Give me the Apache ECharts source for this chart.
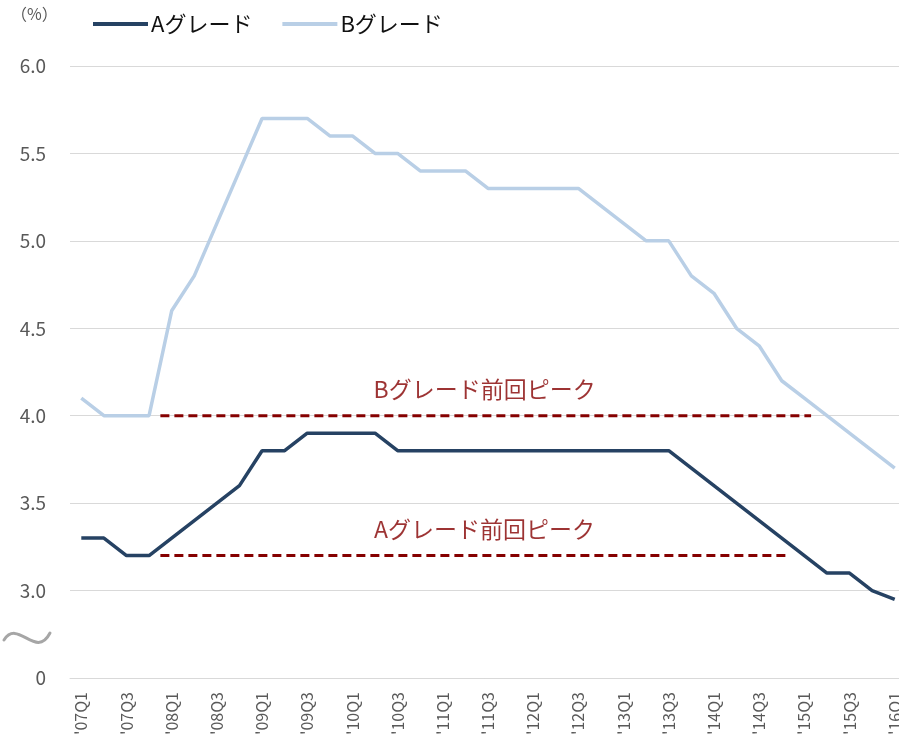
<!DOCTYPE html>
<html>
<head>
<meta charset="utf-8">
<script src="https://cdn.jsdelivr.net/npm/echarts@6/dist/echarts.min.js"></script>
<style>
  html, body { margin: 0; padding: 0; background: #fff; }
  #chart { width: 899px; height: 746px; }
</style>
</head>
<body>
<div id="chart"></div>
<script>
// Quarterly categories, 2007 Q1 to 2016 Q1
const quarters = [
  "'07Q1","'07Q2","'07Q3","'07Q4",
  "'08Q1","'08Q2","'08Q3","'08Q4",
  "'09Q1","'09Q2","'09Q3","'09Q4",
  "'10Q1","'10Q2","'10Q3","'10Q4",
  "'11Q1","'11Q2","'11Q3","'11Q4",
  "'12Q1","'12Q2","'12Q3","'12Q4",
  "'13Q1","'13Q2","'13Q3","'13Q4",
  "'14Q1","'14Q2","'14Q3","'14Q4",
  "'15Q1","'15Q2","'15Q3","'15Q4",
  "'16Q1"
];

// A grade (%)
const gradeA = [
  3.3, 3.3, 3.2, 3.2,
  3.3, 3.4, 3.5, 3.6,
  3.8, 3.8, 3.9, 3.9,
  3.9, 3.9, 3.8, 3.8,
  3.8, 3.8, 3.8, 3.8,
  3.8, 3.8, 3.8, 3.8,
  3.8, 3.8, 3.8, 3.7,
  3.6, 3.5, 3.4, 3.3,
  3.2, 3.1, 3.1, 3.0,
  2.95
];

// B grade (%)
const gradeB = [
  4.1, 4.0, 4.0, 4.0,
  4.6, 4.8, 5.1, 5.4,
  5.7, 5.7, 5.7, 5.6,
  5.6, 5.5, 5.5, 5.4,
  5.4, 5.4, 5.3, 5.3,
  5.3, 5.3, 5.3, 5.2,
  5.1, 5.0, 5.0, 4.8,
  4.7, 4.5, 4.4, 4.2,
  4.1, 4.0, 3.9, 3.8,
  3.7
];

// Previous peak reference levels and the quarter span each dashed line covers
const peakB = 4.0;
const peakA = 3.2;
const peakBSpan = [3.5, 32.3];
const peakASpan = [3.5, 31.3];
const peakLabelPos = 17.85;
const peakBText = 'Bグレード前回ピーク';
const peakAText = 'Aグレード前回ピーク';

// Y-axis: the bottom tick stands for zero (broken axis)
const yMin = 2.5, yMax = 6.0, yStep = 0.5;

const FONT = '"Noto Sans CJK JP", "Noto Sans", sans-serif';
const NAVY = '#264263';
const LIGHT = '#B9CFE6';
const PEAK = '#850000';

const chart = echarts.init(document.getElementById('chart'), null, { renderer: 'canvas' });

chart.setOption({
  animation: false,
  backgroundColor: '#fff',
  textStyle: { fontFamily: FONT },
  grid: { left: 70, top: 66, width: 836, height: 612, containLabel: false, outerBoundsMode: 'none' },
  legend: {
    left: 88, top: 8,
    itemWidth: 55, itemHeight: 4, itemGap: 30,
    icon: 'rect',
    textStyle: { fontSize: 22, color: '#111', fontFamily: FONT, padding: [0, 0, 0, -2] },
    data: ['Aグレード', 'Bグレード']
  },
  xAxis: [{
    type: 'category',
    data: quarters,
    boundaryGap: true,
    axisLine: { show: true, lineStyle: { color: '#d9d9d9', width: 1 } },
    axisTick: { show: false },
    axisLabel: {
      interval: 1, rotate: 90, margin: 14,
      fontSize: 16, color: '#595959', fontFamily: FONT
    },
    splitLine: { show: false }
  }, {
    type: 'value',
    min: -0.5, max: 36.5,
    show: false
  }],
  yAxis: {
    type: 'value',
    min: yMin, max: yMax, interval: yStep,
    axisLine: { show: false },
    axisTick: { show: false },
    axisLabel: {
      margin: 24, fontSize: 19, color: '#595959', fontFamily: FONT,
      formatter: v => (Math.abs(v - yMin) < 1e-9 ? '0' : v.toFixed(1))
    },
    splitLine: { lineStyle: { color: '#d9d9d9', width: 1 } }
  },
  graphic: [
    {
      type: 'text', left: 11, top: 6,
      style: { text: '（%）', fontSize: 16, fill: '#595959', fontFamily: FONT }
    },
    {
      type: 'bezierCurve',
      shape: { x1: 4, y1: 640, cpx1: 18, cpy1: 618, cpx2: 36, cpy2: 660, x2: 50, y2: 633 },
      style: { stroke: '#a6a6a6', lineWidth: 3, fill: null, lineCap: 'round' }
    }
  ],
  series: [
    {
      name: 'Aグレード', type: 'line', data: gradeA,
      showSymbol: false, symbol: 'none',
      lineStyle: { color: NAVY, width: 3.5 }, itemStyle: { color: NAVY },
      z: 4
    },
    {
      name: 'Bグレード', type: 'line', data: gradeB,
      showSymbol: false, symbol: 'none',
      lineStyle: { color: LIGHT, width: 3.5 }, itemStyle: { color: LIGHT },
      z: 3
    },
    {
      name: 'peakB', type: 'line', xAxisIndex: 1,
      data: [[peakBSpan[0], peakB], [peakBSpan[1], peakB]],
      showSymbol: false, symbol: 'none',
      lineStyle: { color: PEAK, width: 3, type: [9, 5] }, z: 2
    },
    {
      name: 'peakA', type: 'line', xAxisIndex: 1,
      data: [[peakASpan[0], peakA], [peakASpan[1], peakA]],
      showSymbol: false, symbol: 'none',
      lineStyle: { color: PEAK, width: 3, type: [9, 5] }, z: 2
    },
    {
      name: 'peakLabels', type: 'scatter', xAxisIndex: 1,
      symbolSize: 0, silent: true,
      data: [
        { value: [peakLabelPos, peakB], name: peakBText },
        { value: [peakLabelPos, peakA], name: peakAText }
      ],
      label: {
        show: true, position: 'top', distance: 15,
        formatter: p => p.name,
        fontSize: 23, color: PEAK, fontFamily: FONT
      }
    }
  ]
});
</script>
</body>
</html>
